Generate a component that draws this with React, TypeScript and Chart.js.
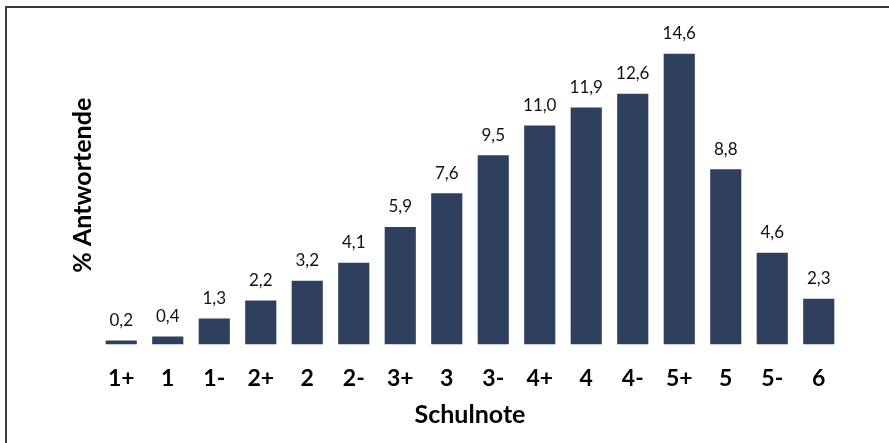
import React, { useEffect, useRef } from "react";
import { Chart, registerables } from "chart.js";

Chart.register(...registerables);

const categories = ["1+", "1", "1-", "2+", "2", "2-", "3+", "3", "3-", "4+", "4", "4-", "5+", "5", "5-", "6"];
const values = [0.2, 0.4, 1.3, 2.2, 3.2, 4.1, 5.9, 7.6, 9.5, 11.0, 11.9, 12.6, 14.6, 8.8, 4.6, 2.3];
const valueLabels = ["0,2", "0,4", "1,3", "2,2", "3,2", "4,1", "5,9", "7,6", "9,5", "11,0", "11,9", "12,6", "14,6", "8,8", "4,6", "2,3"];

const FONT = "Lato, 'Open Sans', 'Liberation Sans', sans-serif";

const labelPlugin = {
  id: "valueLabels",
  afterDatasetsDraw(chart: any) {
    const ctx = chart.ctx;
    const meta = chart.getDatasetMeta(0);
    ctx.save();
    ctx.fillStyle = "#111";
    ctx.font = `17px ${FONT}`;
    ctx.textAlign = "center";
    ctx.textBaseline = "middle";
    meta.data.forEach((bar: any, i: number) => {
      ctx.fillText(valueLabels[i], bar.x, bar.y - 20);
    });
    ctx.restore();
  },
};

export default function App() {
  const ref = useRef<HTMLCanvasElement | null>(null);
  useEffect(() => {
    if (!ref.current) return;
    const chart = new Chart(ref.current, {
      type: "bar",
      data: {
        labels: categories,
        datasets: [
          {
            data: values,
            backgroundColor: "#2F405E",
            borderWidth: 0,
            barPercentage: 0.67,
            categoryPercentage: 1,
          },
        ],
      },
      options: {
        animation: false,
        responsive: false,
        maintainAspectRatio: false,
        layout: { padding: { left: 64, right: 47, top: 26, bottom: 13 } },
        plugins: { legend: { display: false }, tooltip: { enabled: false } },
        scales: {
          x: {
            grid: { display: false, drawTicks: false },
            border: { display: false },
            ticks: { color: "#000", font: { family: FONT, size: 23, weight: "bold" }, padding: 20 },
            title: {
              display: true,
              text: "Schulnote",
              color: "#000",
              font: { family: FONT, size: 25, weight: "bold" },
              padding: { top: -12, bottom: 0 },
            },
          },
          y: {
            min: 0,
            max: 16,
            grid: { display: false, drawTicks: false },
            border: { display: false },
            ticks: { display: false },
            title: {
              display: true,
              text: "% Antwortende",
              color: "#000",
              font: { family: FONT, size: 25, weight: "bold" },
              padding: { top: 4, bottom: 0 },
            },
          },
        },
      },
      plugins: [labelPlugin],
    });
    return () => chart.destroy();
  }, []);
  return (
    <div style={{ position: "absolute", left: 0, top: 0, width: 889, height: 443, overflow: "hidden", background: "#fff" }}>
      <div
        style={{
          position: "absolute",
          left: 5,
          top: 6,
          width: 900,
          height: 460,
          borderLeft: "2px solid #3a3a3a",
          borderTop: "2px solid #3a3a3a",
        }}
      />
      <canvas ref={ref} width={889} height={443} style={{ position: "absolute", left: 0, top: 0, width: 889, height: 443 }} />
    </div>
  );
}
